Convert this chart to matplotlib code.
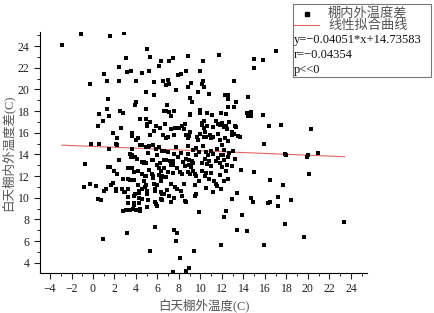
import matplotlib
matplotlib.use("Agg")
import matplotlib.pyplot as plt
from matplotlib.patches import Rectangle
from matplotlib.lines import Line2D
from matplotlib.ticker import MultipleLocator

plt.rcParams['font.family'] = ['Liberation Serif', 'Noto Sans CJK SC']
plt.rcParams['axes.unicode_minus'] = True

# 白天棚外温度 / 白天棚内外温度差
pts = [
    (-2.9, 24.1), (-1.1, 25.1), (1.6, 24.9), (2.9, 25.2), (5.0, 23.7), (5.3, 23.0), (3.1, 22.9),
    (2.4, 22.1), (3.2, 21.6), (3.5, 21.7), (4.6, 21.5), (5.2, 21.7), (1.0, 21.4), (1.3, 20.8),
    (2.4, 20.8), (4.0, 20.8), (-0.3, 20.5), (4.9, 19.8), (1.4, 19.1), (3.9, 18.6), (4.0, 18.8),
    (1.3, 18.2), (4.9, 18.2), (2.5, 18.0), (2.8, 17.8), (0.6, 17.7), (1.5, 17.5), (0.9, 17.1),
    (0.5, 16.6), (2.6, 16.4), (4.4, 17.3), (4.9, 17.3), (5.0, 16.8), (5.0, 16.6),
    (6.1, 22.2), (6.3, 22.6), (7.1, 22.6), (7.4, 22.9), (8.8, 23.1), (10.2, 22.6), (11.7, 23.2),
    (15.0, 22.8), (15.8, 22.7), (15.0, 22.0), (17.0, 23.5), (5.7, 20.7), (6.5, 20.8), (6.8, 20.4),
    (7.0, 20.9), (7.1, 20.5), (7.7, 19.9), (7.9, 21.3), (8.2, 21.4), (8.7, 21.7), (10.0, 21.7),
    (9.1, 20.6), (8.8, 20.2), (10.2, 20.8), (10.1, 20.5), (10.3, 20.2), (9.8, 19.8), (10.8, 19.6),
    (5.7, 19.5), (9.0, 19.2), (9.2, 18.8), (12.3, 19.5), (12.6, 19.5), (12.6, 19.1), (13.1, 20.8),
    (14.4, 19.3), (13.3, 18.8), (13.1, 18.4), (12.6, 18.4), (6.9, 18.6), (6.6, 18.0), (6.8, 18.0),
    (7.1, 17.9), (7.5, 18.0), (10.0, 18.1), (10.0, 17.8), (10.6, 17.8), (11.9, 17.8), (12.4, 17.7),
    (14.7, 17.9), (14.4, 17.5), (14.6, 17.6), (15.8, 17.6), (11.1, 17.6), (9.0, 17.6), (7.3, 17.5),
    (5.3, 17.0), (5.9, 16.6), (6.2, 16.4), (6.7, 16.8), (7.6, 16.4), (8.0, 16.4), (8.3, 16.6),
    (8.6, 16.8), (8.9, 15.7), (9.0, 16.1), (9.0, 17.7), (9.7, 15.6), (10.1, 16.7), (10.3, 16.4),
    (10.4, 16.1), (10.9, 15.8), (11.0, 15.5), (11.4, 17.1), (11.6, 16.8), (11.8, 16.7), (12.0, 16.9),
    (12.2, 16.5), (12.4, 16.6), (12.5, 16.3), (12.7, 17.0), (13.2, 16.6), (12.9, 16.1), (13.1, 15.9),
    (13.5, 15.7), (13.7, 15.6), (13.3, 16.5), (14.3, 17.8), (14.7, 17.5), (16.4, 16.6), (17.5, 16.7),
    (20.3, 16.3), (15.9, 15.0), (11.2, 15.6), (12.9, 15.8), (12.0, 14.9), (10.3, 17.1), (10.1, 16.9),
    (10.6, 16.6), (11.2, 16.5), (3.6, 16.0), (3.6, 15.7), (4.0, 15.3), (4.2, 15.5), (1.9, 16.0),
    (2.2, 15.5), (2.1, 15.0), (2.2, 14.9), (-0.2, 15.0), (0.6, 15.0), (1.5, 14.5), (5.3, 15.8),
    (5.7, 16.2), (6.5, 15.8), (6.8, 15.5), (7.0, 15.6), (7.3, 16.3), (7.5, 15.8), (7.8, 16.4),
    (8.5, 16.3), (8.7, 15.8), (8.8, 15.5), (10.0, 15.9), (10.3, 15.6), (10.5, 15.6), (9.8, 15.3),
    (11.6, 15.9), (11.8, 15.3), (12.3, 15.5), (12.6, 15.2),
    (4.4, 14.9), (4.6, 14.9), (4.9, 14.7), (5.1, 14.7), (3.6, 14.5), (3.4, 14.0), (3.6, 13.9),
    (3.9, 13.8), (3.5, 13.8), (2.4, 13.5), (4.1, 13.6), (4.6, 13.3), (4.9, 13.2), (4.7, 13.2),
    (5.1, 14.1), (5.5, 13.5), (5.6, 13.5), (5.2, 14.8), (5.6, 14.9), (6.1, 14.7), (6.4, 14.3),
    (6.5, 14.3), (6.6, 14.3), (6.6, 13.5), (6.8, 13.5), (7.2, 13.4), (7.4, 13.4), (7.3, 13.0),
    (7.4, 13.0), (7.7, 14.7), (8.8, 14.0), (8.7, 13.6), (8.9, 13.5), (8.9, 13.0), (9.1, 12.8),
    (8.8, 14.8), (9.3, 14.4), (9.2, 13.4), (9.3, 13.2), (10.1, 13.2), (10.5, 14.2), (10.7, 13.9),
    (11.0, 14.3), (11.2, 14.0), (11.6, 13.7), (11.9, 13.9), (12.1, 13.9), (12.6, 13.8), (11.4, 13.4),
    (11.8, 13.2), (12.2, 13.5), (12.5, 13.0), (10.8, 13.4), (10.4, 13.6), (9.6, 14.6), (9.9, 14.2),
    (10.2, 14.8), (11.5, 14.5), (12.2, 14.4), (12.7, 14.1), (17.9, 14.0), (18.0, 13.9), (19.9, 13.8),
    (20.0, 13.9), (20.9, 14.1), (13.0, 14.3), (13.2, 13.6), (8.2, 14.1), (7.9, 13.8), (8.4, 13.3),
    (6.0, 13.9), (5.9, 14.5), (7.0, 14.2), (7.5, 14.0), (9.6, 13.9), (10.6, 13.1), (11.0, 12.9),
    (12.0, 12.8), (12.9, 12.9),
    (-0.7, 13.1), (1.4, 12.8), (1.6, 12.8), (2.0, 12.5), (2.2, 12.2), (3.3, 12.7), (3.5, 12.7),
    (3.6, 12.7), (2.8, 11.7), (3.3, 11.7), (3.4, 11.6), (3.8, 12.4), (3.8, 11.6), (4.2, 12.5),
    (4.6, 12.2), (4.8, 12.0), (4.7, 11.5), (4.9, 12.0), (4.7, 13.3), (4.9, 13.2), (5.5, 12.2),
    (5.6, 12.0), (5.6, 11.8), (5.7, 11.3), (6.0, 13.0), (6.2, 13.2), (6.1, 12.7), (6.3, 12.5),
    (6.1, 12.1), (6.3, 11.9), (6.4, 12.0), (6.0, 11.2), (6.3, 11.5), (6.6, 12.7), (6.8, 11.9),
    (6.7, 11.9), (7.4, 12.3), (7.3, 11.3), (8.1, 12.4), (8.3, 12.2), (8.5, 11.3), (8.8, 12.4),
    (9.0, 12.2), (9.3, 12.5), (9.5, 12.2), (9.6, 12.0), (9.5, 11.2), (9.9, 11.5), (10.1, 12.5),
    (10.5, 12.3), (10.8, 11.7), (11.3, 11.5), (11.5, 11.1), (11.4, 11.3), (12.2, 11.5), (12.6, 11.7),
    (13.8, 12.6), (15.0, 12.4), (16.5, 11.6), (17.7, 11.2), (20.1, 12.2), (-0.8, 11.0), (-0.3, 11.3),
    (0.3, 11.1), (1.7, 11.2), (1.9, 11.4), (4.2, 11.2), (4.8, 11.0), (4.9, 11.2), (10.4, 12.0),
    (11.0, 12.3), (11.8, 12.1), (12.4, 12.5), (7.8, 12.7), (8.6, 12.9), (7.0, 12.4), (5.2, 12.6),
    (0.5, 9.9), (0.7, 9.8), (1.0, 10.6), (1.2, 10.8), (2.1, 10.6), (2.1, 10.8), (2.9, 10.5),
    (3.0, 10.5), (2.7, 10.8), (3.3, 10.8), (3.3, 10.1), (3.3, 9.5), (2.8, 8.8), (3.1, 8.9),
    (3.4, 8.9), (3.7, 9.0), (3.8, 10.2), (3.9, 10.3), (3.8, 9.5), (3.8, 9.3), (4.0, 8.9),
    (4.3, 10.6), (4.3, 10.4), (4.3, 10.0), (4.3, 9.5), (4.4, 9.0), (4.4, 8.8), (4.6, 9.9),
    (5.0, 10.6), (5.0, 10.3), (5.0, 9.1), (5.1, 9.8), (4.6, 10.8), (5.8, 10.8), (5.8, 10.6),
    (5.8, 9.6), (5.9, 9.4), (6.0, 9.2), (6.3, 9.9), (6.6, 10.3), (6.3, 10.5), (6.4, 10.3),
    (6.4, 9.8), (6.9, 10.7), (7.1, 10.2), (7.3, 9.6), (7.5, 10.0), (8.2, 10.6), (8.3, 10.2),
    (8.6, 9.7), (8.7, 9.6), (9.5, 10.2), (9.6, 10.3), (9.9, 8.7), (13.4, 10.4), (12.9, 9.9),
    (14.7, 10.0), (14.9, 9.6), (16.3, 9.5), (16.5, 9.6), (17.2, 10.1), (17.2, 9.2), (18.4, 9.8),
    (12.4, 8.8), (12.2, 8.2), (13.9, 8.4), (11.9, 10.8), (11.2, 10.5), (10.5, 10.9), (7.8, 10.8),
    (7.6, 11.0),
    (0.9, 6.2), (3.2, 6.7), (5.3, 5.1), (5.8, 7.3), (7.5, 7.0), (7.8, 6.7), (7.7, 6.0), (7.4, 3.1),
    (8.1, 4.4), (8.9, 3.5), (8.7, 3.2), (9.4, 5.1), (13.4, 7.0), (14.3, 6.9), (17.9, 7.6),
    (19.6, 6.4), (23.4, 7.8), (11.9, 5.6), (15.9, 5.6),
]
x_out = [p[0] for p in pts]
y_diff = [p[1] for p in pts]

slope = -0.04051
intercept = 14.73583
fit_text = ["y=\u22120.04051*x+14.73583", "r=\u22120.04354", "p<<0"]

fig = plt.figure(figsize=(4.34, 3.13), dpi=100)
ax = fig.add_axes([0.0922, 0.1278, 0.7535, 0.77])

ax.scatter(x_out, y_diff, s=5.5, marker='s', color='black', linewidths=0, zorder=3)
x0, x1 = min(x_out), max(x_out)
ax.plot([x0, x1], [slope * x0 + intercept, slope * x1 + intercept],
        color='#e06464', lw=0.8, zorder=2)

ax.set_xlim(-4.93, 25.5)
ax.set_ylim(3.05, 25.3)
ax.xaxis.set_major_locator(MultipleLocator(2))
ax.xaxis.set_minor_locator(MultipleLocator(1))
ax.yaxis.set_major_locator(MultipleLocator(2))
ax.yaxis.set_minor_locator(MultipleLocator(1))
ax.spines['top'].set_visible(False)
ax.spines['right'].set_visible(False)
for s in ['left', 'bottom']:
    ax.spines[s].set_linewidth(0.8)
ax.tick_params(which='major', direction='out', length=4, width=0.8, labelsize=8.5, colors='#222')
ax.tick_params(which='minor', direction='out', length=2, width=0.6)

ax.set_xlabel('白天棚外温度(C)', fontsize=9, color='#555', labelpad=2)
ax.set_ylabel('白天棚内外温度差(C)', fontsize=9, color='#555', labelpad=2)

# legend box
W, H = 434, 313
def fx(px): return px / W
def fy(py): return 1 - py / H
fig.patches.append(Rectangle((fx(293), fy(77)), fx(431) - fx(293), fy(4) - fy(77),
                             transform=fig.transFigure, facecolor='white',
                             edgecolor='#777', lw=0.8, zorder=5))
fig.lines.append(Line2D([fx(306.5)], [fy(13.5)], marker='s', ms=2.5, color='black',
                        transform=fig.transFigure, zorder=6))
fig.lines.append(Line2D([fx(293), fx(319)], [fy(25)], color='#e06464', lw=0.8,
                        transform=fig.transFigure, zorder=6))
fig.text(fx(328), fy(13.5), '棚内外温度差', fontsize=9.5, color='#555', va='center', zorder=7)
fig.text(fx(328), fy(25.5), '线性拟合曲线', fontsize=9.5, color='#555', va='center', zorder=7)
for i, t in enumerate(fit_text):
    fig.text(fx(294), fy(40 + 15 * i), t, fontsize=9, color='#111', va='center', zorder=7)

fig.savefig('out.png', dpi=100)
